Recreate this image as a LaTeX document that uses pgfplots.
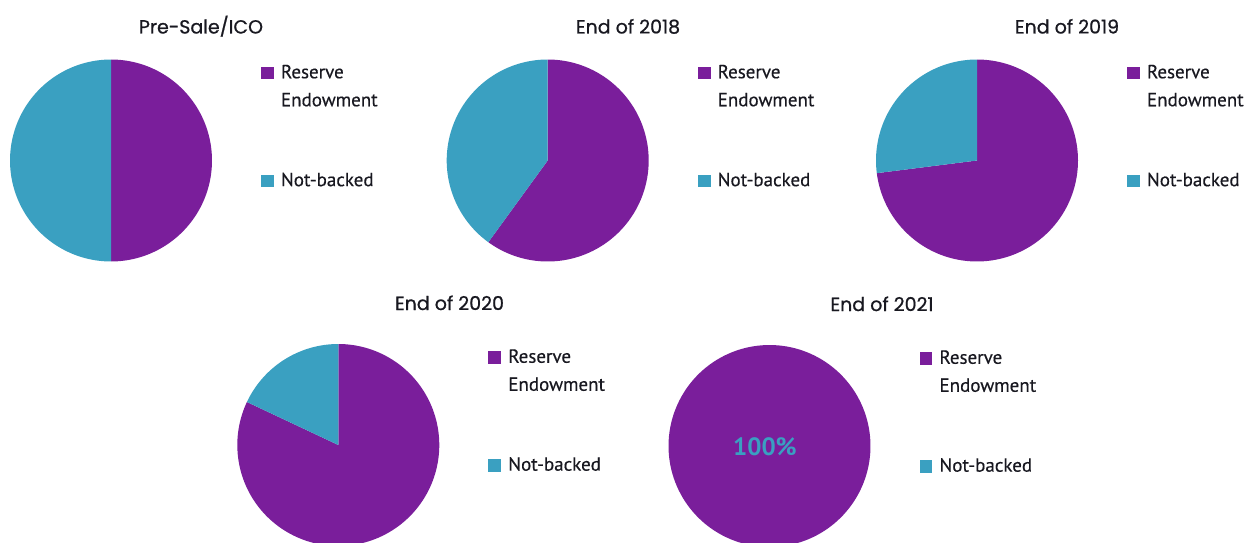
\documentclass[border=0pt]{standalone}
\usepackage{fontspec}
\setmainfont{PT Sans}[UprightFeatures={FakeBold=0.4}]
\newfontfamily\titlefont{Poppins}[UprightFeatures={FakeBold=0.8}]
\newfontfamily\pctfont{PT Sans}
\usepackage{pgfplots}
\pgfplotsset{compat=1.18}
\definecolor{resv}{RGB}{122,30,155}
\definecolor{notb}{RGB}{58,160,193}
\definecolor{txt}{RGB}{24,24,32}
\newcommand\twol[2]{\raisebox{0pt}[\height][0pt]{\vtop{\baselineskip=14pt\hbox{\vphantom{Nb}#1}\hbox{#2}}}}
\newcommand\onel[1]{\vphantom{Nb}#1}
\pgfplotsset{
  pie/.style={hide axis, scale only axis, width=101pt, height=101pt,
    xmin=-1, xmax=1, ymin=-1, ymax=1, clip=false, anchor=center,
    legend cell align=left,
    legend image code/.code={\fill[##1] (0pt,-3.2pt) rectangle (6.4pt,3.2pt);},
    legend style={at={(1.2426,0.974)}, anchor=north west, draw=none, fill=none,
      inner sep=0pt, outer sep=0pt, row sep=45.7pt, column sep=3.6pt,
      font=\fontsize{9.5}{11}\selectfont, text=txt, nodes={inner sep=0pt}},
  },
  slice/.style={draw=none, samples=150},
}
\begin{document}
\begin{tikzpicture}
\path[use as bounding box] (0pt,0pt) rectangle (624pt,271pt);
% titles
\begin{scope}[every node/.style={anchor=base, text=txt, font=\titlefont\fontsize{9.5}{11}\selectfont}]
\node at (100.5pt,254.25pt) {Pre-Sale/ICO};
\node at (314pt,254.25pt) {End of 2018};
\node at (533.5pt,254.25pt) {End of 2019};
\node at (224.75pt,116pt) {End of 2020};
\node at (441pt,115.5pt) {End of 2021};
\end{scope}
% Pre-Sale/ICO: Reserve 50, Not-backed 50
\begin{axis}[pie, at={(55.5pt,190.75pt)}]
\addplot[slice, fill=resv, domain=90:90-3.6*50] ({cos(x)},{sin(x)}) -- (axis cs:0,0) -- cycle;
\addlegendentry{\twol{Reserve}{Endowment}}
\addplot[slice, fill=notb, domain=90-3.6*50:-270] ({cos(x)},{sin(x)}) -- (axis cs:0,0) -- cycle;
\addlegendentry{\onel{Not-backed}}
\end{axis}
% End of 2018: Reserve 60, Not-backed 40
\begin{axis}[pie, at={(273.85pt,190.75pt)}]
\addplot[slice, fill=resv, domain=90:90-3.6*60] ({cos(x)},{sin(x)}) -- (axis cs:0,0) -- cycle;
\addlegendentry{\twol{Reserve}{Endowment}}
\addplot[slice, fill=notb, domain=90-3.6*60:-270] ({cos(x)},{sin(x)}) -- (axis cs:0,0) -- cycle;
\addlegendentry{\onel{Not-backed}}
\end{axis}
% End of 2019: Reserve 73, Not-backed 27
\begin{axis}[pie, at={(488.5pt,190.75pt)}]
\addplot[slice, fill=resv, domain=90:90-3.6*73] ({cos(x)},{sin(x)}) -- (axis cs:0,0) -- cycle;
\addlegendentry{\twol{Reserve}{Endowment}}
\addplot[slice, fill=notb, domain=90-3.6*73:-270] ({cos(x)},{sin(x)}) -- (axis cs:0,0) -- cycle;
\addlegendentry{\onel{Not-backed}}
\end{axis}
% End of 2020: Reserve 82, Not-backed 18
\begin{axis}[pie, at={(169.15pt,48.5pt)}]
\addplot[slice, fill=resv, domain=90:90-3.6*82] ({cos(x)},{sin(x)}) -- (axis cs:0,0) -- cycle;
\addlegendentry{\twol{Reserve}{Endowment}}
\addplot[slice, fill=notb, domain=90-3.6*82:-270] ({cos(x)},{sin(x)}) -- (axis cs:0,0) -- cycle;
\addlegendentry{\onel{Not-backed}}
\end{axis}
% End of 2021: Reserve 100, Not-backed 0
\begin{axis}[pie, at={(384.75pt,48pt)}]
\addplot[slice, fill=resv, domain=90:90-3.6*100] ({cos(x)},{sin(x)}) -- (axis cs:0,0) -- cycle;
\addlegendentry{\twol{Reserve}{Endowment}}
\addlegendimage{fill=notb, draw=none}
\addlegendentry{\onel{Not-backed}}
\node[text=notb, font=\pctfont\bfseries\fontsize{12.5}{14}\selectfont] at (axis cs:-0.045,-0.01) {100\%};
\end{axis}
\end{tikzpicture}
\end{document}
